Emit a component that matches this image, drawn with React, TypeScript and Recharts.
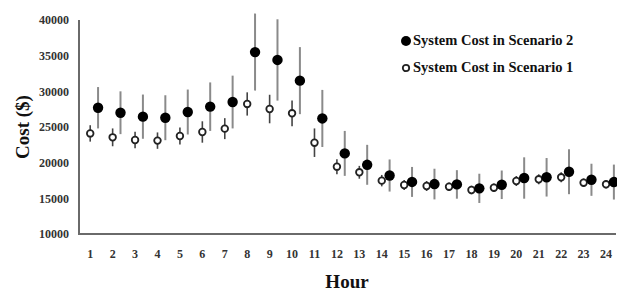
import {
  ErrorBar,
  Label,
  Scatter,
  ScatterChart,
  XAxis,
  YAxis,
} from "recharts";

const hours = [1, 2, 3, 4, 5, 6, 7, 8, 9, 10, 11, 12, 13, 14, 15, 16, 17, 18, 19, 20, 21, 22, 23, 24];

// System cost in scenario 2 (filled markers) and its spread
const scenario2Cost = [
  27700, 27000, 26450, 26300, 27100, 27850, 28500, 35500, 34400, 31500, 26200, 21300,
  19700, 18200, 17300, 17000, 16950, 16400, 16900, 17850, 17950, 18730, 17600, 17280,
];
const scenario2Err = [
  2900, 3000, 3100, 3150, 3150, 3400, 3700, 5400, 5700, 4700, 4000, 3150,
  2800, 2250, 2100, 2150, 2000, 2050, 2000, 2900, 2700, 3150, 2250, 2450,
];

// System cost in scenario 1 (hollow markers) and its spread
const scenario1Cost = [
  24100, 23550, 23180, 23090, 23740, 24300, 24770, 28230, 27520, 26920, 22800, 19440,
  18650, 17480, 16870, 16730, 16630, 16170, 16490, 17430, 17670, 17950, 17190, 16970,
];
const scenario1Err = [
  1150, 1250, 1170, 1150, 1200, 1500, 1470, 1630, 2000, 1800, 2000, 1050,
  900, 800, 700, 700, 600, 600, 600, 700, 700, 700, 600, 600,
];

const yTicks = [10000, 15000, 20000, 25000, 30000, 35000, 40000];

const FONT = "'Liberation Serif', 'Times New Roman', serif";

// chart layout
const W = 617;
const H = 293;
const MARGIN = { top: 20, right: 2, left: 0, bottom: 0 };
const Y_WIDTH = 79;
const X_HEIGHT = 59;

const s2Data = hours.map((h, i) => ({ x: h + 0.35, y: scenario2Cost[i], err: scenario2Err[i] }));
const s1Data = hours.map((h, i) => ({ x: h, y: scenario1Cost[i], err: scenario1Err[i] }));

const FilledDot = (props: any) => <circle cx={props.cx} cy={props.cy} r={5.2} fill="#000" />;
const HollowDot = (props: any) => (
  <circle cx={props.cx} cy={props.cy} r={3.3} fill="#fff" stroke="#222" strokeWidth={1.8} />
);

function LegendBox() {
  const row = (filled: boolean, text: string) => (
    <div style={{ display: "flex", alignItems: "center", height: 27 }}>
      <svg width={12} height={12} style={{ marginRight: 1 }}>
        {filled ? (
          <circle cx={6} cy={6} r={5} fill="#000" />
        ) : (
          <circle cx={6} cy={6} r={3.2} fill="#fff" stroke="#222" strokeWidth={1.8} />
        )}
      </svg>
      <span>{text}</span>
    </div>
  );
  return (
    <div
      style={{
        position: "absolute",
        left: 400,
        top: 27,
        fontFamily: FONT,
        fontWeight: 700,
        fontSize: 14.5,
        color: "#111",
        whiteSpace: "nowrap",
      }}
    >
      {row(true, "System Cost in Scenario 2")}
      {row(false, "System Cost in Scenario 1")}
    </div>
  );
}

// axis frame (left + bottom) around the plot area
function AxisFrame() {
  const plotW = W - MARGIN.left - MARGIN.right - Y_WIDTH;
  const plotH = H - MARGIN.top - MARGIN.bottom - X_HEIGHT;
  return (
    <div
      style={{
        position: "absolute",
        left: MARGIN.left + Y_WIDTH - 1,
        top: MARGIN.top,
        width: plotW,
        height: plotH - 1,
        borderLeft: "2px solid #6a6a6a",
        borderBottom: "2px solid #6a6a6a",
        pointerEvents: "none",
      }}
    />
  );
}

const tickStyle = { fill: "#333", fontSize: 12, fontFamily: FONT, fontWeight: 700 };

export default function App() {
  return (
    <div style={{ position: "absolute", left: 0, top: 0, width: W, height: H }}>
      <ScatterChart width={W} height={H} margin={MARGIN}>
        <XAxis
          type="number"
          dataKey="x"
          domain={[0.5, 24.4]}
          ticks={hours}
          interval={0}
          height={X_HEIGHT}
          axisLine={false}
          tickLine={false}
          tickMargin={9}
          tick={tickStyle}
        >
          <Label
            value="Hour"
            position="insideBottom"
            offset={5}
            style={{ fill: "#111", fontSize: 19, fontFamily: FONT, fontWeight: 700 }}
          />
        </XAxis>
        <YAxis
          type="number"
          dataKey="y"
          domain={[10000, 40000]}
          ticks={yTicks}
          allowDataOverflow
          width={Y_WIDTH}
          axisLine={false}
          tickLine={false}
          tickMargin={4}
          tick={tickStyle}
        >
          <Label
            value="Cost ($)"
            angle={-90}
            position="insideLeft"
            offset={22}
            style={{ fill: "#111", fontSize: 19, fontFamily: FONT, fontWeight: 700, textAnchor: "middle" }}
          />
        </YAxis>
        <Scatter data={s1Data} shape={HollowDot} isAnimationActive={false}>
          <ErrorBar dataKey="err" direction="y" width={0} stroke="#444" strokeWidth={1.6} />
        </Scatter>
        <Scatter data={s2Data} shape={FilledDot} isAnimationActive={false}>
          <ErrorBar dataKey="err" direction="y" width={0} stroke="#8a8a8a" strokeWidth={2} />
        </Scatter>
      </ScatterChart>
      <AxisFrame />
      <LegendBox />
    </div>
  );
}
